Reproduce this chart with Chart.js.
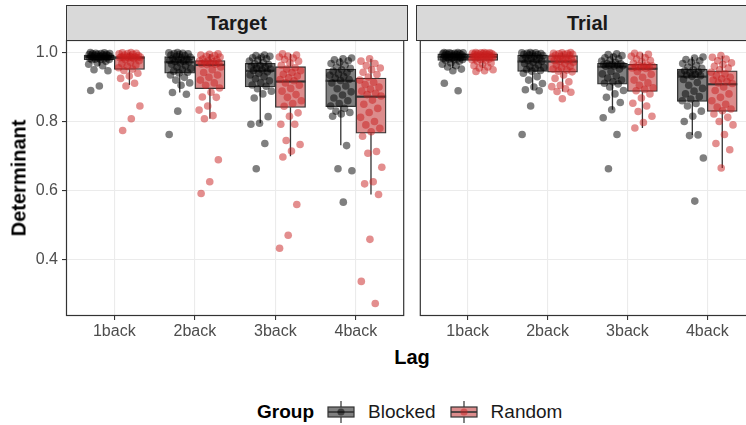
<!DOCTYPE html>
<html>
<head>
<meta charset="utf-8">
<script src="https://cdn.jsdelivr.net/npm/chart.js@4/dist/chart.umd.min.js"></script>
<style>
  html, body { margin: 0; padding: 0; background: #fff; overflow: hidden; }
  #wrap { position: relative; width: 746px; height: 425px; overflow: hidden;
          font-family: "Liberation Sans", Arial, sans-serif; }
  #wrap canvas { position: absolute; top: 0; }
  .strip { position: absolute; top: 5px; height: 36px; box-sizing: border-box;
           background: #D9D9D9; border: 1px solid #333; color: #1A1A1A;
           font-weight: bold; font-size: 20px; line-height: 34px; text-align: center; }
  .axis-title { position: absolute; color: #000; font-weight: bold; font-size: 20px; white-space: nowrap; }
  #legend { position: absolute; left: 257px; top: 400px; height: 24px; display: flex;
            align-items: center; font-size: 19px; color: #1A1A1A; }
  #legend .title { font-weight: bold; color: #000; margin-right: 13px; }
  #legend svg { display: block; margin-right: 13px; }
  #legend .lab { margin-right: 14px; }
</style>
</head>
<body>
<div id="wrap">
  <canvas id="panelTarget" width="408" height="345" style="left:0px"></canvas>
  <canvas id="panelTrial" width="343" height="345" style="left:416px"></canvas>
  <div class="strip" style="left:66px; width:342px;">Target</div>
  <div class="strip" style="left:416px; width:343px;">Trial</div>
  <div class="axis-title" style="left:19px; top:178px; transform: translate(-50%, -50%) rotate(-90deg);">Determinant</div>
  <div class="axis-title" style="left:412px; top:357px; transform: translate(-50%, -50%);">Lag</div>
  <div id="legend">
    <span class="title">Group</span>
    <svg width="28" height="22" viewBox="0 0 28 22">
      <line x1="14" y1="0" x2="14" y2="22" stroke="#333" stroke-width="1.2"/>
      <rect x="1" y="6" width="26" height="10" fill="rgb(128,128,128)" stroke="#333" stroke-width="1.2"/>
      <line x1="1" y1="11" x2="27" y2="11" stroke="#333" stroke-width="1.6"/>
      <circle cx="14" cy="11" r="3.6" fill="rgba(0,0,0,0.5)"/>
    </svg>
    <span class="lab">Blocked</span>
    <svg width="28" height="22" viewBox="0 0 28 22">
      <line x1="14" y1="0" x2="14" y2="22" stroke="#333" stroke-width="1.2"/>
      <rect x="1" y="6" width="26" height="10" fill="rgb(220,140,140)" stroke="#333" stroke-width="1.2"/>
      <line x1="1" y1="11" x2="27" y2="11" stroke="#333" stroke-width="1.6"/>
      <circle cx="14" cy="11" r="3.6" fill="rgba(200,30,30,0.5)"/>
    </svg>
    <span class="lab">Random</span>
  </div>
</div>
<script>
// ---- categories and ticks ----
const lags = ['1back', '2back', '3back', '4back'];
const yTicks = [0.4, 0.6, 0.8, 1.0];

// ---- box summaries (one value per lag) ----
// Target / Blocked
const targetBlockedLow  = [0.962, 0.884, 0.795, 0.731];
const targetBlockedQ1   = [0.979, 0.940, 0.900, 0.843];
const targetBlockedMed  = [0.987, 0.972, 0.947, 0.918];
const targetBlockedQ3   = [0.993, 0.988, 0.969, 0.952];
const targetBlockedHigh = [1.000, 1.000, 0.993, 0.984];
// Target / Random
const targetRandomLow   = [0.906, 0.808, 0.699, 0.588];
const targetRandomQ1    = [0.951, 0.895, 0.841, 0.766];
const targetRandomMed   = [0.985, 0.964, 0.916, 0.872];
const targetRandomQ3    = [0.988, 0.977, 0.959, 0.926];
const targetRandomHigh  = [1.000, 0.996, 0.996, 0.982];
// Trial / Blocked
const trialBlockedLow   = [0.955, 0.892, 0.834, 0.761];
const trialBlockedQ1    = [0.977, 0.945, 0.908, 0.858];
const trialBlockedMed   = [0.987, 0.974, 0.959, 0.930];
const trialBlockedQ3    = [0.996, 0.993, 0.969, 0.952];
const trialBlockedHigh  = [1.000, 1.000, 0.996, 0.987];
// Trial / Random
const trialRandomLow    = [0.955, 0.887, 0.781, 0.665];
const trialRandomQ1     = [0.977, 0.943, 0.887, 0.829];
const trialRandomMed    = [0.988, 0.974, 0.953, 0.908];
const trialRandomQ3     = [0.996, 0.991, 0.966, 0.947];
const trialRandomHigh   = [1.000, 1.000, 0.998, 0.991];

// ---- individual participant determinants (one list per lag) ----
const targetBlockedPts = [
  [1.000, 0.999, 0.998, 0.997, 0.997, 0.996, 0.995, 0.995, 0.994, 0.993, 0.992, 0.991, 0.990, 0.990, 0.989, 0.988, 0.988, 0.987,
   0.986, 0.985, 0.984, 0.983, 0.982, 0.981, 0.980, 0.980, 0.979, 0.975, 0.970, 0.966, 0.962, 0.950, 0.947, 0.903, 0.890],
  [1.000, 0.999, 0.998, 0.997, 0.996, 0.995, 0.993, 0.991, 0.989, 0.987, 0.985, 0.983, 0.981, 0.979, 0.977, 0.975, 0.974, 0.973,
   0.970, 0.966, 0.962, 0.958, 0.954, 0.950, 0.946, 0.943, 0.941, 0.935, 0.928, 0.920, 0.912, 0.905, 0.884, 0.879, 0.830, 0.762],
  [0.993, 0.991, 0.989, 0.987, 0.985, 0.982, 0.978, 0.975, 0.971, 0.967, 0.965, 0.962, 0.960, 0.957, 0.955, 0.952, 0.950, 0.948,
   0.944, 0.940, 0.935, 0.930, 0.924, 0.918, 0.912, 0.906, 0.902, 0.895, 0.888, 0.880, 0.868, 0.814, 0.795, 0.792, 0.736, 0.663],
  [0.984, 0.982, 0.979, 0.976, 0.972, 0.968, 0.963, 0.958, 0.954, 0.950, 0.946, 0.942, 0.938, 0.934, 0.930, 0.926, 0.922, 0.919,
   0.912, 0.903, 0.895, 0.886, 0.877, 0.868, 0.860, 0.852, 0.845, 0.838, 0.830, 0.826, 0.822, 0.815, 0.730, 0.663, 0.657, 0.566]
];
const targetRandomPts = [
  [1.000, 0.999, 0.998, 0.997, 0.996, 0.995, 0.993, 0.991, 0.989, 0.988, 0.988, 0.987, 0.987, 0.986, 0.986, 0.985, 0.985, 0.985,
   0.983, 0.980, 0.976, 0.972, 0.968, 0.964, 0.960, 0.956, 0.952, 0.948, 0.940, 0.932, 0.925, 0.911, 0.903, 0.845, 0.808, 0.774],
  [0.996, 0.995, 0.993, 0.991, 0.989, 0.987, 0.984, 0.981, 0.978, 0.976, 0.975, 0.973, 0.972, 0.970, 0.969, 0.967, 0.966, 0.965,
   0.958, 0.950, 0.942, 0.935, 0.928, 0.920, 0.912, 0.905, 0.897, 0.885, 0.871, 0.870, 0.845, 0.833, 0.817, 0.808, 0.689, 0.625, 0.591],
  [0.996, 0.993, 0.990, 0.987, 0.984, 0.980, 0.975, 0.970, 0.963, 0.956, 0.952, 0.947, 0.942, 0.937, 0.932, 0.927, 0.922, 0.918,
   0.912, 0.905, 0.896, 0.888, 0.878, 0.870, 0.860, 0.852, 0.844, 0.825, 0.815, 0.792, 0.792, 0.745, 0.733, 0.714, 0.697, 0.559, 0.470, 0.432],
  [0.982, 0.975, 0.968, 0.962, 0.955, 0.950, 0.943, 0.936, 0.929, 0.920, 0.914, 0.907, 0.900, 0.894, 0.888, 0.882, 0.878, 0.874,
   0.862, 0.850, 0.838, 0.826, 0.812, 0.800, 0.790, 0.780, 0.770, 0.757, 0.713, 0.708, 0.667, 0.625, 0.619, 0.588, 0.458, 0.336, 0.272]
];
const trialBlockedPts = [
  [1.000, 1.000, 0.999, 0.999, 0.998, 0.998, 0.997, 0.997, 0.996, 0.995, 0.994, 0.993, 0.992, 0.991, 0.990, 0.989, 0.988, 0.988,
   0.986, 0.985, 0.984, 0.983, 0.982, 0.981, 0.980, 0.979, 0.978, 0.975, 0.970, 0.966, 0.962, 0.958, 0.952, 0.947, 0.911, 0.889],
  [1.000, 0.999, 0.999, 0.998, 0.997, 0.996, 0.995, 0.994, 0.993, 0.991, 0.989, 0.987, 0.985, 0.983, 0.981, 0.979, 0.977, 0.975,
   0.972, 0.968, 0.964, 0.960, 0.957, 0.954, 0.951, 0.948, 0.946, 0.940, 0.930, 0.920, 0.910, 0.900, 0.892, 0.889, 0.845, 0.762],
  [0.996, 0.994, 0.991, 0.988, 0.985, 0.982, 0.978, 0.975, 0.971, 0.968, 0.967, 0.966, 0.965, 0.964, 0.963, 0.962, 0.961, 0.960,
   0.952, 0.945, 0.938, 0.932, 0.926, 0.920, 0.915, 0.911, 0.909, 0.900, 0.890, 0.880, 0.870, 0.855, 0.834, 0.811, 0.762, 0.663],
  [0.987, 0.984, 0.980, 0.976, 0.972, 0.968, 0.963, 0.958, 0.954, 0.950, 0.947, 0.944, 0.942, 0.940, 0.937, 0.935, 0.933, 0.931,
   0.922, 0.913, 0.905, 0.896, 0.888, 0.880, 0.872, 0.865, 0.860, 0.852, 0.845, 0.830, 0.815, 0.800, 0.761, 0.759, 0.694, 0.569]
];
const trialRandomPts = [
  [1.000, 1.000, 0.999, 0.999, 0.998, 0.998, 0.997, 0.997, 0.996, 0.995, 0.994, 0.993, 0.993, 0.992, 0.991, 0.990, 0.989, 0.988,
   0.987, 0.986, 0.985, 0.984, 0.982, 0.981, 0.980, 0.979, 0.978, 0.975, 0.970, 0.966, 0.962, 0.958, 0.955, 0.950, 0.947, 0.945],
  [1.000, 0.999, 0.998, 0.997, 0.996, 0.995, 0.994, 0.993, 0.992, 0.989, 0.987, 0.985, 0.983, 0.981, 0.979, 0.977, 0.976, 0.975,
   0.972, 0.968, 0.964, 0.960, 0.956, 0.952, 0.949, 0.946, 0.944, 0.935, 0.925, 0.915, 0.905, 0.901, 0.895, 0.887, 0.885, 0.866],
  [0.998, 0.995, 0.992, 0.989, 0.985, 0.981, 0.977, 0.973, 0.969, 0.964, 0.962, 0.961, 0.960, 0.958, 0.957, 0.956, 0.955, 0.954,
   0.945, 0.937, 0.928, 0.920, 0.912, 0.905, 0.898, 0.893, 0.889, 0.880, 0.868, 0.853, 0.845, 0.829, 0.815, 0.797, 0.781],
  [0.991, 0.986, 0.981, 0.976, 0.970, 0.965, 0.960, 0.955, 0.950, 0.943, 0.938, 0.933, 0.928, 0.924, 0.920, 0.916, 0.912, 0.910,
   0.900, 0.890, 0.880, 0.870, 0.860, 0.850, 0.842, 0.836, 0.831, 0.822, 0.812, 0.800, 0.790, 0.762, 0.736, 0.718, 0.665]
];

// ---- styling ----
const FONT = '"Liberation Sans", Arial, sans-serif';
const INK = '#333333';
const GRID = '#EBEBEB';
const groupStyle = {
  Blocked: { box: 'rgb(128,128,128)', point: 'rgba(0,0,0,0.5)', shift: -0.1875, seed: 0.11 },
  Random:  { box: 'rgb(220,140,140)', point: 'rgba(200,30,30,0.5)', shift: 0.1875, seed: 0.57 }
};
const JITTER = 0.14;   // half-width of horizontal spread, in category units

// Shared y range: data extent with 5% padding on each side
const allValues = [targetBlockedPts, targetRandomPts, trialBlockedPts, trialRandomPts].flat(2);
const dMin = Math.min(...allValues), dMax = Math.max(...allValues);
const yMin = dMin - 0.05 * (dMax - dMin);
const yMax = dMax + 0.05 * (dMax - dMin);

function boxDataset(name, s) {
  const st = groupStyle[name];
  return {
    type: 'bar', label: name, order: 2,
    data: lags.map((_, i) => ({ x: i + 1 + st.shift, y: [s.q1[i], s.q3[i]] })),
    summary: s,
    backgroundColor: st.box, borderColor: INK, borderWidth: 1.3, borderSkipped: false,
    grouped: false, barPercentage: 1, categoryPercentage: 1
  };
}

function pointDataset(name, pts) {
  const st = groupStyle[name];
  const data = [];
  pts.forEach((vals, i) => {
    vals.forEach((v, k) => {
      const spread = ((k * 0.6180339887 + st.seed + i * 0.29) % 1) - 0.5;
      data.push({ x: i + 1 + st.shift + spread * 2 * JITTER, y: v });
    });
  });
  return {
    type: 'scatter', label: name, order: 1, data,
    backgroundColor: st.point, borderWidth: 0, pointRadius: 3.8, pointHoverRadius: 3.8
  };
}

// Whiskers and median bars on top of each box
const boxLines = {
  id: 'boxLines',
  afterDatasetDraw(chart, args) {
    const ds = chart.data.datasets[args.index];
    if (!ds.summary) return;
    const s = ds.summary, y = chart.scales.y, ctx = chart.ctx;
    ctx.save();
    ctx.strokeStyle = INK;
    args.meta.data.forEach((bar, i) => {
      const x = bar.x, half = bar.width / 2;
      ctx.lineWidth = 1.3;
      ctx.beginPath();
      ctx.moveTo(x, y.getPixelForValue(s.q3[i])); ctx.lineTo(x, y.getPixelForValue(s.high[i]));
      ctx.moveTo(x, y.getPixelForValue(s.q1[i])); ctx.lineTo(x, y.getPixelForValue(s.low[i]));
      ctx.stroke();
      ctx.lineWidth = 2.2;
      const ym = y.getPixelForValue(s.med[i]);
      ctx.beginPath();
      ctx.moveTo(x - half, ym); ctx.lineTo(x + half, ym);
      ctx.stroke();
    });
    ctx.restore();
  }
};

// Dark frame around each panel
const panelFrame = {
  id: 'panelFrame',
  afterDraw(chart) {
    const a = chart.chartArea, ctx = chart.ctx;
    ctx.save();
    ctx.strokeStyle = INK; ctx.lineWidth = 1.2;
    ctx.strokeRect(a.left + 0.5, a.top + 0.5, a.right - a.left - 1, a.bottom - a.top - 1);
    ctx.restore();
  }
};

function makePanel(canvasId, blockedStats, randomStats, blockedPts, randomPts, withYLabels) {
  new Chart(document.getElementById(canvasId), {
    type: 'bar',
    data: {
      datasets: [
        boxDataset('Blocked', blockedStats),
        boxDataset('Random', randomStats),
        pointDataset('Blocked', blockedPts),
        pointDataset('Random', randomPts)
      ]
    },
    options: {
      responsive: false, animation: false, events: [],
      layout: { padding: { top: 40, right: withYLabels ? 1 : 0, left: 0, bottom: 0 } },
      plugins: { legend: { display: false }, tooltip: { enabled: false } },
      scales: {
        x: {
          type: 'linear', min: 0.4, max: 4.6, offset: false,
          afterBuildTicks: s => { s.ticks = lags.map((_, i) => ({ value: i + 1 })); },
          afterFit: s => { s.height = 29; },
          grid: { offset: false, color: GRID, lineWidth: 1.1, tickLength: 4, tickColor: INK, tickWidth: 1.1 },
          border: { display: false },
          ticks: { callback: (v, i) => lags[i], color: '#4D4D4D', font: { size: 16, family: FONT },
                   padding: 2, maxRotation: 0, autoSkip: false }
        },
        y: {
          type: 'linear', min: yMin, max: yMax, beginAtZero: false,
          afterBuildTicks: s => { s.ticks = yTicks.map(v => ({ value: v })); },
          afterFit: s => { s.width = withYLabels ? 66 : 0; },
          grid: { color: GRID, lineWidth: 1.1, drawTicks: withYLabels, tickLength: 4, tickColor: INK, tickWidth: 1.1 },
          border: { display: false },
          ticks: { display: withYLabels, callback: v => v.toFixed(1), color: '#4D4D4D',
                   font: { size: 16, family: FONT }, padding: 4 }
        }
      }
    },
    plugins: [boxLines, panelFrame]
  });
}

const pack = (low, q1, med, q3, high) => ({ low, q1, med, q3, high });

makePanel('panelTarget',
  pack(targetBlockedLow, targetBlockedQ1, targetBlockedMed, targetBlockedQ3, targetBlockedHigh),
  pack(targetRandomLow, targetRandomQ1, targetRandomMed, targetRandomQ3, targetRandomHigh),
  targetBlockedPts, targetRandomPts, true);

makePanel('panelTrial',
  pack(trialBlockedLow, trialBlockedQ1, trialBlockedMed, trialBlockedQ3, trialBlockedHigh),
  pack(trialRandomLow, trialRandomQ1, trialRandomMed, trialRandomQ3, trialRandomHigh),
  trialBlockedPts, trialRandomPts, false);
</script>
</body>
</html>
